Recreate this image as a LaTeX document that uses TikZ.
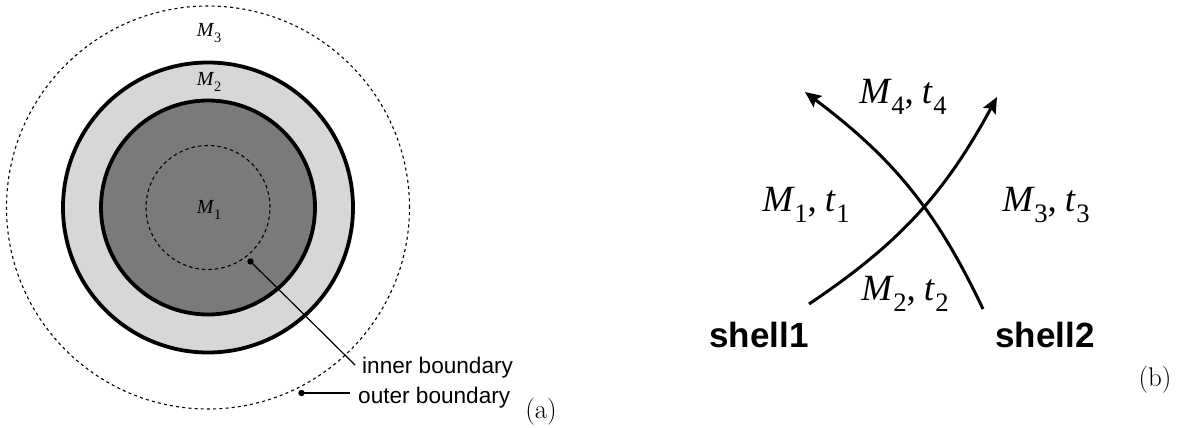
\documentclass[tikz,border=0pt]{standalone}
\usepackage{fontspec}
\newfontfamily\labfont{Liberation Sans}
\newfontfamily\symfont{Liberation Serif}
\usetikzlibrary{arrows.meta}
\definecolor{ringgray}{RGB}{215,215,215}
\definecolor{coregray}{RGB}{122,122,122}
\newcommand\symsub[2]{{\symfont\itshape #1}\kern0.03em\raisebox{-0.3em}{\scalebox{0.72}{\symfont #2}}}
\newcommand\pairlab[2]{\symsub{M}{#1}{\symfont,}\hspace{0.22em}\symsub{t}{#2}}
\begin{document}
\begin{tikzpicture}[x=1pt,y=-1pt,
  ring/.style={line width=3.8pt, draw=black},
  dashcirc/.style={line width=1.1pt, dash pattern=on 3.5pt off 3pt},
  dotcirc/.style={line width=1.1pt, dash pattern=on 3pt off 3.2pt},
  pointer/.style={line width=1.2pt},
  pdot/.style={fill=black},
  smallM/.style={inner sep=0pt, anchor=base, font=\fontsize{20}{23}\selectfont},
  bigM/.style={inner sep=0pt, anchor=base, font=\fontsize{37}{42}\selectfont},
  bdlabel/.style={inner sep=0pt, anchor=base west, font=\labfont\fontsize{22.6}{26}\selectfont},
  shelllabel/.style={inner sep=0pt, anchor=base, font=\labfont\bfseries\fontsize{35}{40}\selectfont},
  panel/.style={inner sep=0pt, anchor=base, font=\fontsize{27}{30}\selectfont},
  flow/.style={line width=3pt, -{Stealth[length=16pt,width=14pt,inset=3pt]}}
]
\useasboundingbox (0,0) rectangle (1184,428);

% ---------- panel (a) ----------
\coordinate (C) at (208,207.5);
\draw[dotcirc] (C) circle[radius=201.5pt];
\draw[ring, fill=ringgray] (C) circle[radius=145pt];
\draw[ring, fill=coregray] (C) circle[radius=107pt];
\draw[dashcirc] (C) circle[radius=62pt];

\node[smallM] (m3) at (209,37) {\symsub{M}{3}};
\node[smallM] (m2) at (209,85) {\symsub{M}{2}};
\node[smallM] (m1) at (209,213) {\symsub{M}{1}};

\coordinate (idot) at (250.5,261.5);
\coordinate (iend) at (355,365);
\coordinate (odot) at (301.5,393);
\coordinate (oend) at (350,393);
\fill[pdot] (idot) circle[radius=3.2pt];
\fill[pdot] (odot) circle[radius=3.2pt];
\draw[pointer] (idot) -- (iend);
\draw[pointer] (odot) -- (oend);
\node[bdlabel] (inner) at (362,373) {inner boundary};
\node[bdlabel] (outer) at (358,403) {outer boundary};
\node[panel] (pa) at (541,418) {(a)};

% ---------- panel (b) ----------
\coordinate (s1) at (809,304);
\coordinate (e1) at (997,97);
\coordinate (s2) at (983,309);
\coordinate (e2) at (805,92);
\draw[flow] (s1) .. controls (900,243) and (945,193) .. (e1);
\draw[flow] (s2) .. controls (936,210) and (893,158) .. (e2);

\node[bigM] (l4) at (903,103) {\pairlab{4}{4}};
\node[bigM] (l1) at (806,211) {\pairlab{1}{1}};
\node[bigM] (l3) at (1046,211) {\pairlab{3}{3}};
\node[bigM] (l2) at (905,300) {\pairlab{2}{2}};

\node[shelllabel] (sh1) at (759,347) {shell1};
\node[shelllabel] (sh2) at (1045,347) {shell2};
\node[panel] (pb) at (1155,386) {(b)};
\end{tikzpicture}
\end{document}
